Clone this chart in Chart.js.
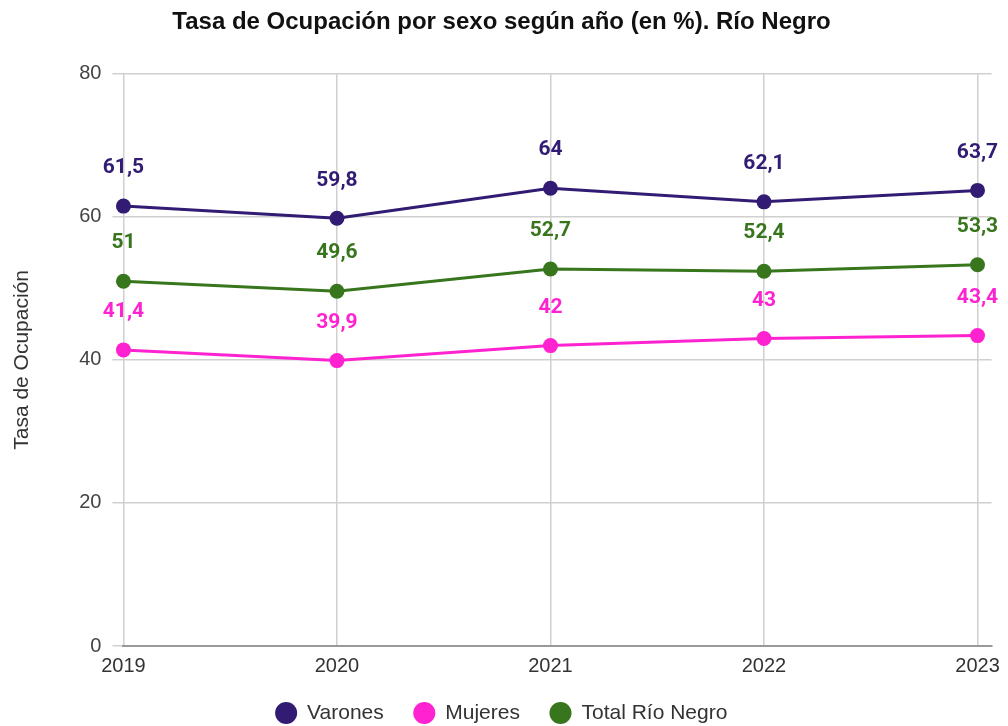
<!DOCTYPE html>
<html><head><meta charset="utf-8">
<script src="https://cdn.jsdelivr.net/npm/chart.js@4.4.1/dist/chart.umd.min.js"></script>
<style>html,body{margin:0;padding:0;background:#fff}#wrap{width:1008px;height:726px}</style>
</head><body><div id="wrap"><canvas id="c" width="1008" height="726"></canvas></div>
<script>
const years = [2019, 2020, 2021, 2022, 2023];
const varones = [61.5, 59.8, 64, 62.1, 63.7];
const mujeres = [41.4, 39.9, 42, 43, 43.4];
const total = [51, 49.6, 52.7, 52.4, 53.3];
const yTicks = [0, 20, 40, 60, 80];

const C_V = '#311b73', C_M = '#ff22d0', C_T = '#38761d';
const FONT = '"Liberation Sans", Arial, sans-serif';
const pts = arr => arr.map((v, i) => ({x: years[i], y: v}));

const labelPlugin = {
  id: 'vals',
  afterDatasetsDraw(chart) {
    const ctx = chart.ctx;
    ctx.save();
    ctx.font = 'bold 21px Roboto, "Liberation Sans", sans-serif';
    ctx.textAlign = 'center';
    ctx.textBaseline = 'middle';
    chart.data.datasets.forEach((ds, di) => {
      const meta = chart.getDatasetMeta(di);
      ctx.fillStyle = ds.borderColor;
      meta.data.forEach((p, i) => {
        const txt = String(ds.data[i].y).replace('.', ',');
        ctx.fillText(txt, p.x, p.y - 38);
      });
    });
    ctx.restore();
  }
};

const legendFitPlugin = {
  id: 'legendFit',
  beforeInit(chart) {
    const lg = chart.legend;
    if (!lg) return;
    const orig = lg.fit;
    lg.fit = function () { orig.call(this); this.height = 40; };
  },
  afterLayout(chart) {
    if (chart.legend) { chart.legend.top -= 13.5; chart.legend.bottom = 726; }
  }
};

new Chart(document.getElementById('c'), {
  type: 'line',
  data: {
    datasets: [
      {label: 'Varones', data: pts(varones), borderColor: C_V, backgroundColor: C_V, clip: false},
      {label: 'Mujeres', data: pts(mujeres), borderColor: C_M, backgroundColor: C_M, clip: false},
      {label: 'Total Río Negro', data: pts(total), borderColor: C_T, backgroundColor: C_T, clip: false}
    ]
  },
  options: {
    responsive: false,
    animation: false,
    layout: {padding: {left: 10, right: 15, top: 2, bottom: 0}},
    elements: {
      line: {borderWidth: 3, tension: 0},
      point: {radius: 7.5, hoverRadius: 7.5, borderWidth: 0}
    },
    plugins: {
      title: {
        display: true,
        text: 'Tasa de Ocupación por sexo según año (en %). Río Negro',
        color: '#111',
        font: {family: FONT, size: 24, weight: 'bold'},
        padding: {top: 6, bottom: 37}
      },
      legend: {
        position: 'bottom',
        labels: {
          usePointStyle: true, pointStyle: 'circle', boxWidth: 21, boxHeight: 15.6,
          color: '#333', padding: 30,
          font: {family: FONT, size: 21}
        }
      },
      tooltip: {enabled: false}
    },
    scales: {
      x: {
        type: 'linear', min: 2019, max: 2023.066,
        afterBuildTicks: s => { s.ticks = years.map(v => ({value: v})); },
        ticks: {color: '#333', font: {family: FONT, size: 20}, padding: 8,
          callback: v => String(v)},
        grid: {color: '#d0d0d0', lineWidth: 1.5, drawTicks: false},
        border: {color: '#999', width: 2}
      },
      y: {
        min: 0, max: 80,
        afterBuildTicks: s => { s.ticks = yTicks.map(v => ({value: v})); },
        ticks: {color: '#444', font: {family: FONT, size: 20}, padding: 11},
        grid: {color: '#d0d0d0', lineWidth: 1.5, tickLength: 11},
        border: {display: false},
        title: {display: true, text: 'Tasa de Ocupación', color: '#333',
          font: {family: FONT, size: 21}, padding: {top: 0, bottom: 33}}
      }
    }
  },
  plugins: [labelPlugin, legendFitPlugin]
});
</script></body></html>
